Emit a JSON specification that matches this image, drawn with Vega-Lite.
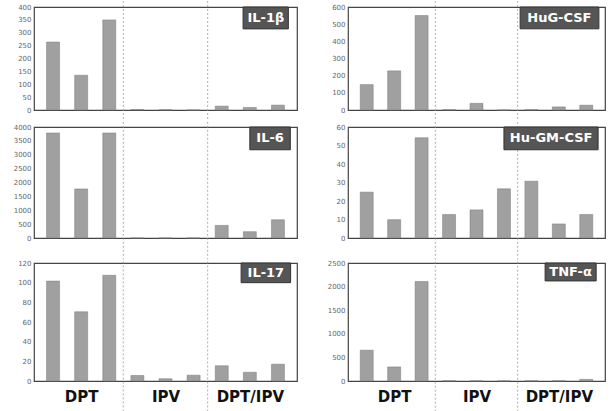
{
  "$schema": "https://vega.github.io/schema/vega-lite/v6.json",
  "padding": {"left": 5, "top": 0, "right": 3, "bottom": 0},
  "background": "white",
  "datasets": {
    "cyt": [
      {"panel": "IL-1β", "pos": 1, "value": 264}, {"panel": "IL-1β", "pos": 2, "value": 135}, {"panel": "IL-1β", "pos": 3, "value": 350},
      {"panel": "IL-1β", "pos": 4, "value": 2}, {"panel": "IL-1β", "pos": 5, "value": 1}, {"panel": "IL-1β", "pos": 6, "value": 0},
      {"panel": "IL-1β", "pos": 7, "value": 15}, {"panel": "IL-1β", "pos": 8, "value": 10}, {"panel": "IL-1β", "pos": 9, "value": 19},
      {"panel": "IL-6", "pos": 1, "value": 3785}, {"panel": "IL-6", "pos": 2, "value": 1767}, {"panel": "IL-6", "pos": 3, "value": 3785},
      {"panel": "IL-6", "pos": 4, "value": 0}, {"panel": "IL-6", "pos": 5, "value": 0}, {"panel": "IL-6", "pos": 6, "value": 0},
      {"panel": "IL-6", "pos": 7, "value": 454}, {"panel": "IL-6", "pos": 8, "value": 227}, {"panel": "IL-6", "pos": 9, "value": 657},
      {"panel": "IL-17", "pos": 1, "value": 101.6}, {"panel": "IL-17", "pos": 2, "value": 70.4}, {"panel": "IL-17", "pos": 3, "value": 107.5},
      {"panel": "IL-17", "pos": 4, "value": 5.6}, {"panel": "IL-17", "pos": 5, "value": 2.3}, {"panel": "IL-17", "pos": 6, "value": 5.9},
      {"panel": "IL-17", "pos": 7, "value": 15.5}, {"panel": "IL-17", "pos": 8, "value": 8.9}, {"panel": "IL-17", "pos": 9, "value": 17.1},
      {"panel": "HuG-CSF", "pos": 1, "value": 148}, {"panel": "HuG-CSF", "pos": 2, "value": 228}, {"panel": "HuG-CSF", "pos": 3, "value": 550},
      {"panel": "HuG-CSF", "pos": 4, "value": 2}, {"panel": "HuG-CSF", "pos": 5, "value": 39}, {"panel": "HuG-CSF", "pos": 6, "value": 0},
      {"panel": "HuG-CSF", "pos": 7, "value": 2}, {"panel": "HuG-CSF", "pos": 8, "value": 18}, {"panel": "HuG-CSF", "pos": 9, "value": 28},
      {"panel": "Hu-GM-CSF", "pos": 1, "value": 24.8}, {"panel": "Hu-GM-CSF", "pos": 2, "value": 9.9}, {"panel": "Hu-GM-CSF", "pos": 3, "value": 54.2},
      {"panel": "Hu-GM-CSF", "pos": 4, "value": 12.7}, {"panel": "Hu-GM-CSF", "pos": 5, "value": 15.2}, {"panel": "Hu-GM-CSF", "pos": 6, "value": 26.6},
      {"panel": "Hu-GM-CSF", "pos": 7, "value": 30.7}, {"panel": "Hu-GM-CSF", "pos": 8, "value": 7.6}, {"panel": "Hu-GM-CSF", "pos": 9, "value": 12.7},
      {"panel": "TNF-α", "pos": 1, "value": 653}, {"panel": "TNF-α", "pos": 2, "value": 298}, {"panel": "TNF-α", "pos": 3, "value": 2109},
      {"panel": "TNF-α", "pos": 4, "value": 5}, {"panel": "TNF-α", "pos": 5, "value": 3}, {"panel": "TNF-α", "pos": 6, "value": 3},
      {"panel": "TNF-α", "pos": 7, "value": 5}, {"panel": "TNF-α", "pos": 8, "value": 5}, {"panel": "TNF-α", "pos": 9, "value": 35}
    ],
    "seps": [{"s": 3.5}, {"s": 6.5}]
  },
  "config": {
    "view": {"stroke": "#444", "strokeWidth": 1.2},
    "axisY": {"title": null, "domain": false, "ticks": false, "labelFontSize": 7, "labelColor": "#666", "labelPadding": 3, "labelFont": "DejaVu Sans", "labelOverlap": false, "format": "d", "gridDash": [2, 2], "gridColor": "#aaa", "gridWidth": 0.8, "minExtent": 28, "maxExtent": 28},
    "axisX": {"title": null, "domain": false, "ticks": false, "grid": false, "labelFontSize": 15, "labelFontWeight": "bold", "labelColor": "#111", "labelFont": "DejaVu Sans", "labelPadding": 8, "labelOverlap": false, "labelFlush": false}
  },
  "spacing": 21,
  "hconcat": [
    {
      "spacing": 0,
      "vconcat": [
        {
          "spacing": 0,
          "vconcat": [
            {
              "width": 263, "height": 103,
              "layer": [
                {"data": {"name": "seps"}, "mark": {"type": "rule", "strokeDash": [2, 2], "color": "#999", "strokeWidth": 0.8, "clip": false},
                 "encoding": {"x": {"field": "s", "type": "quantitative", "scale": {"domain": [0.5, 9.5], "nice": false, "zero": false}, "axis": null},
                   "y": {"datum": -34.6, "scale": {"domain": [0, 400], "nice": false}, "axis": {"values": [0, 50, 100, 150, 200, 250, 300, 350, 400]}}, "y2": {"datum": 423}}},
                {"data": {"name": "cyt"}, "transform": [{"filter": {"field": "panel", "equal": "IL-1β"}}],
                 "mark": {"type": "bar", "orient": "vertical", "size": 13, "color": "#a0a0a0", "stroke": "#7a7a7a", "strokeWidth": 0.5},
                 "encoding": {"x": {"field": "pos", "type": "quantitative"},
                   "y": {"field": "value", "type": "quantitative", "scale": {"domain": [0, 400], "nice": false}, "axis": {"values": [0, 50, 100, 150, 200, 250, 300, 350, 400]}}}},
                {"data": {"values": [{"label": "IL-1β"}]}, "mark": {"type": "rect", "color": "#555", "stroke": "#333", "strokeWidth": 1, "clip": false},
                 "encoding": {"x": {"datum": 7.76}, "x2": {"datum": 9.37}, "y": {"datum": 400, "axis": {"values": [0, 50, 100, 150, 200, 250, 300, 350, 400]}}, "y2": {"datum": 315}}},
                {"data": {"values": [{"label": "IL-1β"}]}, "mark": {"type": "text", "color": "white", "fontWeight": "bold", "fontSize": 13, "font": "DejaVu Sans"},
                 "encoding": {"x": {"datum": 8.57}, "y": {"datum": 357, "axis": {"values": [0, 50, 100, 150, 200, 250, 300, 350, 400]}}, "text": {"field": "label"}}}
              ]
            },
            {
              "width": 263, "height": 111,
              "layer": [
                {"data": {"name": "seps"}, "mark": {"type": "rule", "strokeDash": [2, 2], "color": "#999", "strokeWidth": 0.8, "clip": false},
                 "encoding": {"x": {"field": "s", "type": "quantitative", "scale": {"domain": [0.5, 9.5], "nice": false, "zero": false}, "axis": null},
                   "y": {"datum": -643, "scale": {"domain": [0, 4000], "nice": false}, "axis": {"values": [0, 500, 1000, 1500, 2000, 2500, 3000, 3500, 4000]}}, "y2": {"datum": 4214}}},
                {"data": {"name": "cyt"}, "transform": [{"filter": {"field": "panel", "equal": "IL-6"}}],
                 "mark": {"type": "bar", "orient": "vertical", "size": 13, "color": "#a0a0a0", "stroke": "#7a7a7a", "strokeWidth": 0.5},
                 "encoding": {"x": {"field": "pos", "type": "quantitative"},
                   "y": {"field": "value", "type": "quantitative", "scale": {"domain": [0, 4000], "nice": false}, "axis": {"values": [0, 500, 1000, 1500, 2000, 2500, 3000, 3500, 4000]}}}},
                {"data": {"values": [{"label": "IL-6"}]}, "mark": {"type": "rect", "color": "#555", "stroke": "#333", "strokeWidth": 1, "clip": false},
                 "encoding": {"x": {"datum": 8.0}, "x2": {"datum": 9.44}, "y": {"datum": 4000, "axis": {"values": [0, 500, 1000, 1500, 2000, 2500, 3000, 3500, 4000]}}, "y2": {"datum": 3180}}},
                {"data": {"values": [{"label": "IL-6"}]}, "mark": {"type": "text", "color": "white", "fontWeight": "bold", "fontSize": 13, "font": "DejaVu Sans"},
                 "encoding": {"x": {"datum": 8.72}, "y": {"datum": 3590, "axis": {"values": [0, 500, 1000, 1500, 2000, 2500, 3000, 3500, 4000]}}, "text": {"field": "label"}}}
              ]
            }
          ]
        },
        {
          "width": 263, "height": 118,
          "layer": [
            {"data": {"name": "seps"}, "mark": {"type": "rule", "strokeDash": [2, 2], "color": "#999", "strokeWidth": 0.8, "clip": false},
             "encoding": {"x": {"field": "s", "type": "quantitative", "scale": {"domain": [0.5, 9.5], "nice": false, "zero": false},
               "axis": {"values": [2, 5, 8], "labelExpr": "datum.value == 2 ? 'DPT' : datum.value == 5 ? 'IPV' : 'DPT/IPV'"}},
               "y": {"datum": -31, "scale": {"domain": [0, 120], "nice": false}, "axis": {"values": [0, 20, 40, 60, 80, 100, 120]}}, "y2": {"datum": 125}}},
            {"data": {"name": "cyt"}, "transform": [{"filter": {"field": "panel", "equal": "IL-17"}}],
             "mark": {"type": "bar", "orient": "vertical", "size": 13, "color": "#a0a0a0", "stroke": "#7a7a7a", "strokeWidth": 0.5},
             "encoding": {"x": {"field": "pos", "type": "quantitative"},
               "y": {"field": "value", "type": "quantitative", "scale": {"domain": [0, 120], "nice": false}, "axis": {"values": [0, 20, 40, 60, 80, 100, 120]}}}},
            {"data": {"values": [{"label": "IL-17"}]}, "mark": {"type": "rect", "color": "#555", "stroke": "#333", "strokeWidth": 1, "clip": false},
             "encoding": {"x": {"datum": 7.69}, "x2": {"datum": 9.45}, "y": {"datum": 120, "axis": {"values": [0, 20, 40, 60, 80, 100, 120]}}, "y2": {"datum": 100}}},
            {"data": {"values": [{"label": "IL-17"}]}, "mark": {"type": "text", "color": "white", "fontWeight": "bold", "fontSize": 13, "font": "DejaVu Sans"},
             "encoding": {"x": {"datum": 8.57}, "y": {"datum": 110, "axis": {"values": [0, 20, 40, 60, 80, 100, 120]}}, "text": {"field": "label"}}}
          ]
        }
      ]
    },
    {
      "spacing": 0,
      "vconcat": [
        {
          "spacing": 0,
          "vconcat": [
            {
              "width": 257, "height": 103,
              "layer": [
                {"data": {"name": "seps"}, "mark": {"type": "rule", "strokeDash": [2, 2], "color": "#999", "strokeWidth": 0.8, "clip": false},
                 "encoding": {"x": {"field": "s", "type": "quantitative", "scale": {"domain": [0.5, 9.5], "nice": false, "zero": false}, "axis": null},
                   "y": {"datum": -51.9, "scale": {"domain": [0, 600], "nice": false}, "axis": {"values": [0, 100, 200, 300, 400, 500, 600]}}, "y2": {"datum": 634.6}}},
                {"data": {"name": "cyt"}, "transform": [{"filter": {"field": "panel", "equal": "HuG-CSF"}}],
                 "mark": {"type": "bar", "orient": "vertical", "size": 13, "color": "#a0a0a0", "stroke": "#7a7a7a", "strokeWidth": 0.5},
                 "encoding": {"x": {"field": "pos", "type": "quantitative"},
                   "y": {"field": "value", "type": "quantitative", "scale": {"domain": [0, 600], "nice": false}, "axis": {"values": [0, 100, 200, 300, 400, 500, 600]}}}},
                {"data": {"values": [{"label": "HuG-CSF"}]}, "mark": {"type": "rect", "color": "#555", "stroke": "#333", "strokeWidth": 1, "clip": false},
                 "encoding": {"x": {"datum": 6.59}, "x2": {"datum": 9.46}, "y": {"datum": 600, "axis": {"values": [0, 100, 200, 300, 400, 500, 600]}}, "y2": {"datum": 473}}},
                {"data": {"values": [{"label": "HuG-CSF"}]}, "mark": {"type": "text", "color": "white", "fontWeight": "bold", "fontSize": 13, "font": "DejaVu Sans"},
                 "encoding": {"x": {"datum": 8.02}, "y": {"datum": 536, "axis": {"values": [0, 100, 200, 300, 400, 500, 600]}}, "text": {"field": "label"}}}
              ]
            },
            {
              "width": 257, "height": 111,
              "layer": [
                {"data": {"name": "seps"}, "mark": {"type": "rule", "strokeDash": [2, 2], "color": "#999", "strokeWidth": 0.8, "clip": false},
                 "encoding": {"x": {"field": "s", "type": "quantitative", "scale": {"domain": [0.5, 9.5], "nice": false, "zero": false}, "axis": null},
                   "y": {"datum": -9.64, "scale": {"domain": [0, 60], "nice": false}, "axis": {"values": [0, 10, 20, 30, 40, 50, 60]}}, "y2": {"datum": 63.2}}},
                {"data": {"name": "cyt"}, "transform": [{"filter": {"field": "panel", "equal": "Hu-GM-CSF"}}],
                 "mark": {"type": "bar", "orient": "vertical", "size": 13, "color": "#a0a0a0", "stroke": "#7a7a7a", "strokeWidth": 0.5},
                 "encoding": {"x": {"field": "pos", "type": "quantitative"},
                   "y": {"field": "value", "type": "quantitative", "scale": {"domain": [0, 60], "nice": false}, "axis": {"values": [0, 10, 20, 30, 40, 50, 60]}}}},
                {"data": {"values": [{"label": "Hu-GM-CSF"}]}, "mark": {"type": "rect", "color": "#555", "stroke": "#333", "strokeWidth": 1, "clip": false},
                 "encoding": {"x": {"datum": 6.0}, "x2": {"datum": 9.43}, "y": {"datum": 60, "axis": {"values": [0, 10, 20, 30, 40, 50, 60]}}, "y2": {"datum": 47.7}}},
                {"data": {"values": [{"label": "Hu-GM-CSF"}]}, "mark": {"type": "text", "color": "white", "fontWeight": "bold", "fontSize": 13, "font": "DejaVu Sans"},
                 "encoding": {"x": {"datum": 7.72}, "y": {"datum": 53.85, "axis": {"values": [0, 10, 20, 30, 40, 50, 60]}}, "text": {"field": "label"}}}
              ]
            }
          ]
        },
        {
          "width": 257, "height": 118,
          "layer": [
            {"data": {"name": "seps"}, "mark": {"type": "rule", "strokeDash": [2, 2], "color": "#999", "strokeWidth": 0.8, "clip": false},
             "encoding": {"x": {"field": "s", "type": "quantitative", "scale": {"domain": [0.5, 9.5], "nice": false, "zero": false},
               "axis": {"values": [2, 5, 8], "labelExpr": "datum.value == 2 ? 'DPT' : datum.value == 5 ? 'IPV' : 'DPT/IPV'"}},
               "y": {"datum": -650, "scale": {"domain": [0, 2500], "nice": false}, "axis": {"values": [0, 500, 1000, 1500, 2000, 2500]}}, "y2": {"datum": 2603}}},
            {"data": {"name": "cyt"}, "transform": [{"filter": {"field": "panel", "equal": "TNF-α"}}],
             "mark": {"type": "bar", "orient": "vertical", "size": 13, "color": "#a0a0a0", "stroke": "#7a7a7a", "strokeWidth": 0.5},
             "encoding": {"x": {"field": "pos", "type": "quantitative"},
               "y": {"field": "value", "type": "quantitative", "scale": {"domain": [0, 2500], "nice": false}, "axis": {"values": [0, 500, 1000, 1500, 2000, 2500]}}}},
            {"data": {"values": [{"label": "TNF-α"}]}, "mark": {"type": "rect", "color": "#555", "stroke": "#333", "strokeWidth": 1, "clip": false},
             "encoding": {"x": {"datum": 7.5}, "x2": {"datum": 9.36}, "y": {"datum": 2500, "axis": {"values": [0, 500, 1000, 1500, 2000, 2500]}}, "y2": {"datum": 2120}}},
            {"data": {"values": [{"label": "TNF-α"}]}, "mark": {"type": "text", "color": "white", "fontWeight": "bold", "fontSize": 13, "font": "DejaVu Sans"},
             "encoding": {"x": {"datum": 8.43}, "y": {"datum": 2310, "axis": {"values": [0, 500, 1000, 1500, 2000, 2500]}}, "text": {"field": "label"}}}
          ]
        }
      ]
    }
  ]
}
